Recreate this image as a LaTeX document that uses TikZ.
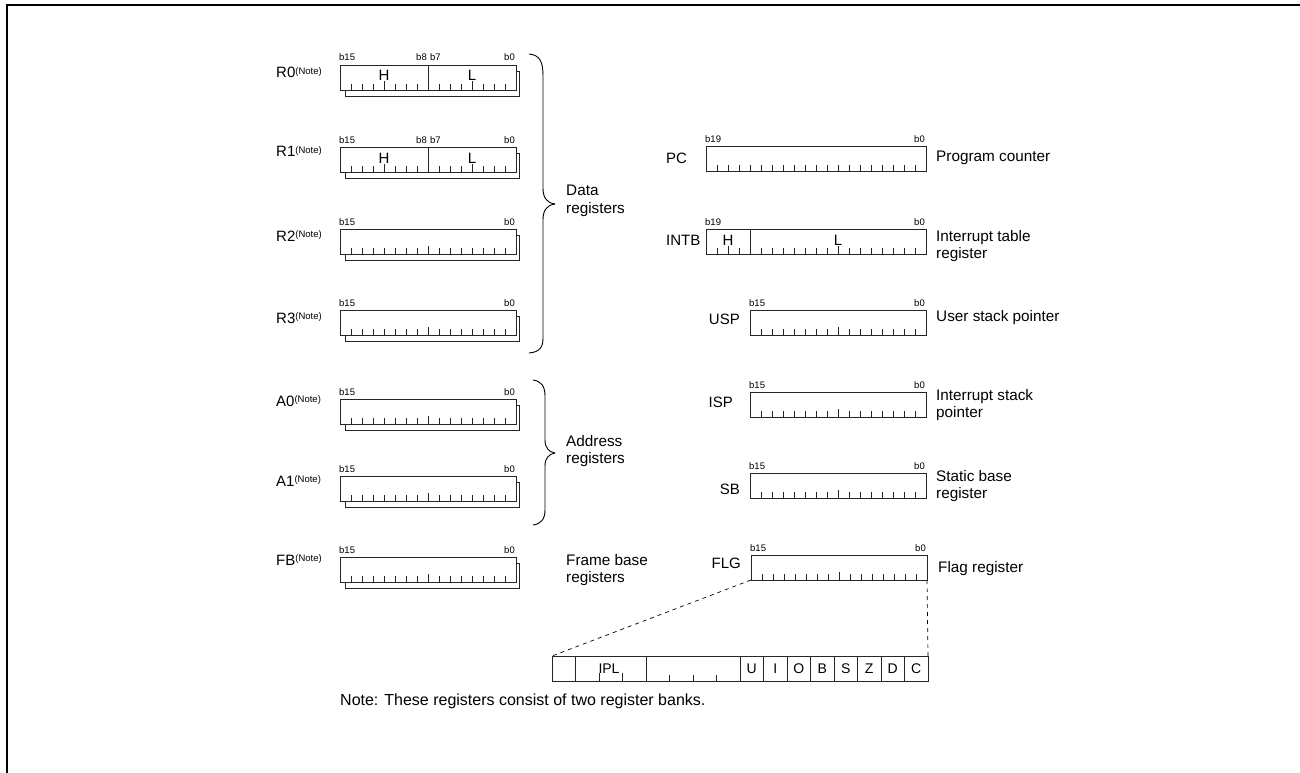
\documentclass[tikz,border=0pt]{standalone}
\usepackage{fontspec}
\setmainfont{Liberation Sans}
\begin{document}
\begin{tikzpicture}[x=1pt,y=-1pt,
  regline/.style={line width=0.9pt,draw=black!85},
  regbox/.style={rectangle,draw=black!85,line width=0.9pt,fill=white,inner sep=0pt,outer sep=0pt,anchor=north west},
  tick/.style={line width=0.7pt,draw=black!85},
  bitlbl/.style={inner sep=0pt,font=\fontsize{9.5}{10}\selectfont},
  namelbl/.style={inner sep=0pt,font=\fontsize{15}{16}\selectfont},
  desclbl/.style={inner sep=0pt,anchor=west,align=left,font=\fontsize{15.3}{17.5}\selectfont},
  hl/.style={inner sep=0pt,font=\fontsize{15}{16}\selectfont},
  fl/.style={inner sep=0pt,font=\fontsize{14}{15}\selectfont},
  dashln/.style={dashed,dash pattern=on 4pt off 4pt,line width=0.7pt},
  bracel/.style={line width=0.9pt}]
\useasboundingbox (0,0) rectangle (1300,773);
\draw[line width=2.2pt] (7,773) -- (7,5) -- (1300,5);

% tick macro: x0, ybottom, nbits, tall index, bit width
\newcommand\drawticks[5]{%
  \pgfmathtruncatemacro\nt{#3-1}%
  \foreach \i in {1,...,\nt}{%
    \pgfmathsetmacro\th{\i==#4 ? 8.5 : 6}%
    \draw[tick] ({#1+\i*#5},#2) -- ++(0,-\th);
  }}
% shadowed 16-bit register: name, x, ytop
\newcommand\shreg[3]{%
  \draw[regline] ({#2+5},{#3+6}) rectangle ({#2+179.5},{#3+31});
  \node[regbox,minimum width=176,minimum height=25] (#1) at (#2,#3) {};
  \node[bitlbl,anchor=base west] (#1b15) at ({#2-1},{#3-4}) {b15};
  \node[bitlbl,anchor=base east] (#1b0) at ({#2+175},{#3-4}) {b0};
}
\newcommand\plainreg[5]{% name, x, ytop, nbits, leftlabel
  \node[regbox,minimum width=#4*11,minimum height=25] (#1) at (#2,#3) {};
  \node[bitlbl,anchor=base west] (#1bl) at ({#2-1},{#3-3.5}) {#5};
  \node[bitlbl,anchor=base east] (#1b0) at ({#2+#4*11-1},{#3-3.5}) {b0};
}
\newcommand\notelbl[4]{% name, x, y(base), text
  \node[namelbl,anchor=base west] (#1) at (#2,#3) {#4\raisebox{3.5pt}{\fontsize{9.5}{10}\selectfont(Note)}};
}

% ===== left column =====
% R0, R1 with H/L
\foreach \nm/\yy/\ly in {R0/65/78,R1/147/157}{
  \shreg{\nm box}{340}{\yy}
  \draw[regline] (428,\yy) -- (428,{\yy+25});
  \drawticks{340}{\yy+25}{8}{4}{11}
  \drawticks{428}{\yy+25}{8}{4}{11}
  \node[bitlbl,anchor=base east] (\nm b8) at (427,{\yy-4}) {b8};
  \node[bitlbl,anchor=base west] (\nm b7) at (430,{\yy-4}) {b7};
  \node[hl,anchor=base] (\nm H) at (384,{\yy+16}) {H};
  \node[hl,anchor=base] (\nm L) at (472,{\yy+16}) {L};
  \notelbl{\nm lbl}{276}{\ly}{\nm}
}
\foreach \nm/\yy/\ly in {R2/229/241,R3/310/323,A0/399/406,A1/476/486,FB/557/565}{
  \shreg{\nm box}{340}{\yy}
  \drawticks{340}{\yy+25}{16}{8}{11}
  \notelbl{\nm lbl}{276}{\ly}{\nm}
}

% braces
\draw[bracel] (529,54) .. controls (540,55) and (543,62) .. (543,76) -- (543,188)
  .. controls (543,198) and (547,203) .. (555,204);
\draw[bracel] (555,204) .. controls (547,205) and (543,210) .. (543,220) -- (543,338)
  .. controls (543,347) and (540,352) .. (529,353);
\node[desclbl] (datalbl) at (566,201) {Data\\registers};

\draw[bracel] (533,380) .. controls (541,381) and (545,386) .. (545,396) -- (545,440)
  .. controls (545,448) and (549,452) .. (555,453);
\draw[bracel] (555,453) .. controls (549,454) and (545,458) .. (545,466) -- (545,510)
  .. controls (545,519) and (541,524) .. (533,525);
\node[desclbl] (addrlbl) at (566,451) {Address\\registers};

\node[desclbl] (fblbl) at (566,570) {Frame base\\registers};

% ===== right column =====
% PC
\plainreg{PC}{706}{146}{20}{b19}
\drawticks{706}{171}{20}{0}{11}
\node[namelbl,anchor=base west] (PClbl) at (666,163.5) {PC};
\node[desclbl] (PCd) at (936,158) {Program counter};

% INTB
\plainreg{INTB}{706}{229}{20}{b19}
\draw[regline] (750,229) -- (750,254);
\drawticks{706}{254}{4}{2}{11}
\drawticks{750}{254}{16}{8}{11}
\node[hl,anchor=base] (INTBH) at (728,{229+16}) {H};
\node[hl,anchor=base] (INTBL) at (838,{229+16}) {L};
\node[namelbl,anchor=base west] (INTBlbl) at (666,245.5) {INTB};
\node[desclbl] (INTBd) at (936,246) {Interrupt table\\register};

% USP, ISP, SB, FLG
\plainreg{USP}{750}{310}{16}{b15}
\drawticks{750}{335}{16}{8}{11}
\node[namelbl,anchor=base east] (USPlbl) at (740,324.5) {USP};
\node[desclbl] (USPd) at (936,318) {User stack pointer};

\plainreg{ISP}{750}{392}{16}{b15}
\drawticks{750}{417}{16}{8}{11}
\node[namelbl,anchor=base east] (ISPlbl) at (733,407) {ISP};
\node[desclbl] (ISPd) at (936,405) {Interrupt stack\\pointer};

\plainreg{SB}{750}{473}{16}{b15}
\drawticks{750}{498}{16}{8}{11}
\node[namelbl,anchor=base east] (SBlbl) at (740,494) {SB};
\node[desclbl] (SBd) at (936,486) {Static base\\register};

\plainreg{FLG}{751}{555}{16}{b15}
\drawticks{751}{580}{16}{8}{11}
\node[namelbl,anchor=base east] (FLGlbl) at (741,568.5) {FLG};
\node[desclbl] (FLGd) at (938,569) {Flag register};

% ===== flag bits =====
\node[regbox,minimum width=376,minimum height=25] (flags) at (552,656) {};
\foreach \k in {1,4,8,9,10,11,12,13,14,15}{
  \draw[regline] ({552+\k*23.5},656) -- ({552+\k*23.5},681);
}
\foreach \k in {2,3}{ \draw[tick] ({552+\k*23.5},681) -- ++(0,-8.5); }
\foreach \k in {5,6,7}{ \draw[tick] ({552+\k*23.5},681) -- ++(0,-6); }
\node[fl,anchor=base] (IPL) at (609,673.5) {IPL};
\foreach \t [count=\c from 0] in {U,I,O,B,S,Z,D,C}{
  \node[fl,anchor=base] (flag\t) at ({552+(8+\c)*23.5+11.75},673.5) {\t};
}
\draw[dashln] (FLG.south west) -- (flags.north west);
\draw[dashln] (FLG.south east) -- (flags.north east);

\node[inner sep=0pt,anchor=base west,font=\fontsize{16}{17}\selectfont] (note) at (340,705)
  {Note: These registers consist of two register banks.};
\end{tikzpicture}
\end{document}
